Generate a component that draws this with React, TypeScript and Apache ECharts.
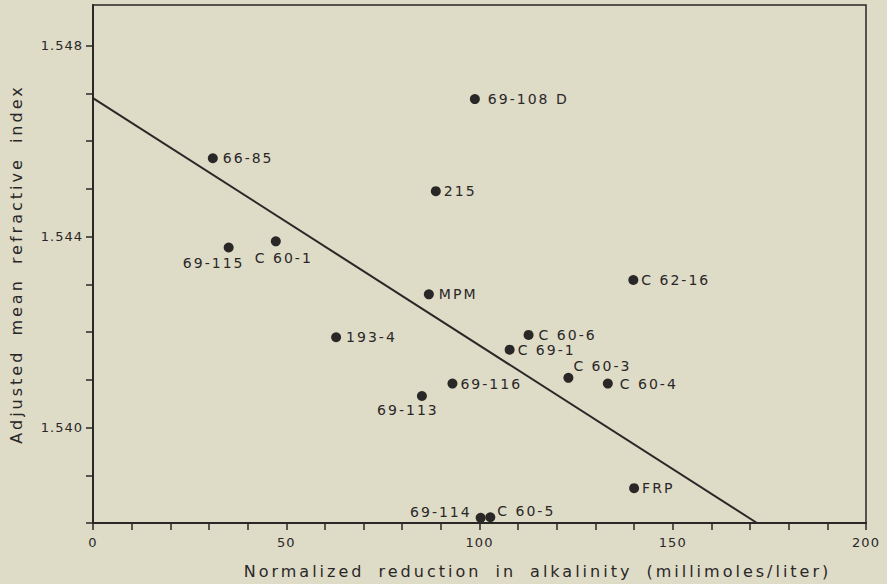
import React, { useEffect, useRef } from "react";
import * as echarts from "echarts";

// Sample names and values
const sampleNames = [
  "66-85", "215", "69-115", "C 60-1", "69-108 D", "MPM", "C 62-16", "C 60-6",
  "C 69-1", "C 60-3", "C 60-4", "69-116", "69-113", "193-4", "69-114", "C 60-5", "FRP",
];
const alkalinityReduction = [
  31.0, 88.7, 35.1, 47.3, 98.8, 86.9, 139.8, 112.7,
  107.8, 123.0, 133.2, 93.0, 85.1, 62.9, 100.3, 102.8, 140.0,
];
const refractiveIndex = [
  1.54564, 1.54495, 1.54377, 1.5439, 1.54688, 1.54279, 1.54309, 1.54194,
  1.54163, 1.54104, 1.54092, 1.54092, 1.54066, 1.54189, 1.53811, 1.53812, 1.53873,
];
// Regression line end points
const fitX = [0, 171.8];
const fitY = [1.5469, 1.538];

// Axis ticks / labels
const xTicks = [0, 10, 20, 30, 40, 50, 60, 70, 80, 90, 100, 110, 120, 130, 140, 150, 160, 170, 180, 190, 200];
const xTickLabels = [0, 50, 100, 150, 200];
const yTicks = [1.538, 1.539, 1.54, 1.541, 1.542, 1.543, 1.544, 1.545, 1.546, 1.547, 1.548];
const yTickLabels = [1.54, 1.544, 1.548];

const FONT = "DejaVu Sans";
const INK = "#2a2727";

// label placement per sample (style only); array positions are relative to the 10x10 symbol box
const labelPlacement: Record<string, any> = {
  "69-115": { position: [-10, 13], align: "center", verticalAlign: "top" },
  "C 60-1": { position: [13, 15], align: "center", verticalAlign: "top" },
  "69-113": { position: [-9, 12], align: "center", verticalAlign: "top" },
  "69-114": { position: [-4, -1], align: "right", verticalAlign: "middle" },
  "C 60-5": { position: [12, -1], align: "left", verticalAlign: "middle" },
  "C 60-3": { position: [10, -7], align: "left", verticalAlign: "middle" },
  "69-108 D": { position: "right", distance: 8 },
  "C 60-4": { position: "right", distance: 7 },
  "C 60-6": { position: "right", distance: 5 },
  "C 69-1": { position: "right", distance: 3 },
  "66-85": { position: "right", distance: 5 },
  "MPM": { position: "right", distance: 5 },
  "193-4": { position: "right", distance: 5 },
};

const css = `
.refchart text { letter-spacing: 2px; }
.refchart text[style*="16px"] { letter-spacing: 3px; word-spacing: 6px; }
.refchart text[style*="13px"] { letter-spacing: 1px; }
`;

export default function App() {
  const ref = useRef<HTMLDivElement>(null);
  useEffect(() => {
    if (!ref.current) return;
    const chart = echarts.init(ref.current, null, { renderer: "svg" });
    const scatterData = sampleNames.map((n, i) => {
      const p = labelPlacement[n] || { position: "right", distance: 3 };
      return {
        name: n,
        value: [alkalinityReduction[i], refractiveIndex[i]],
        label: { ...p },
      };
    });
    chart.setOption({
      animation: false,
      backgroundColor: "#dedbc7",
      textStyle: { fontFamily: FONT, color: INK },
      grid: {
        left: 90,
        right: 21,
        top: 5,
        bottom: 56,
        show: true,
        borderColor: INK,
        borderWidth: 1.5,
        backgroundColor: "transparent",
      },
      xAxis: {
        type: "value",
        min: 0,
        max: 200,
        interval: 10,
        name: "Normalized reduction in alkalinity (millimoles/liter)",
        nameLocation: "middle",
        nameGap: 40,
        nameTextStyle: { fontFamily: FONT, fontSize: 16, color: INK, padding: [0, 0, 0, 116] },
        axisLine: { show: true, lineStyle: { color: INK, width: 2 } },
        axisTick: { show: true, length: 7, customValues: xTicks, lineStyle: { color: INK, width: 1.5 } },
        axisLabel: {
          customValues: xTickLabels,
          margin: 13,
          fontFamily: FONT,
          fontSize: 13,
          color: INK,
        },
        splitLine: { show: false },
      },
      yAxis: {
        type: "value",
        min: 1.538,
        max: 1.54885,
        name: "Adjusted mean refractive index",
        nameLocation: "middle",
        nameGap: 69,
        nameTextStyle: { fontFamily: FONT, fontSize: 16, color: INK },
        axisLine: { show: true, lineStyle: { color: INK, width: 2 } },
        axisTick: { show: true, length: 7, customValues: yTicks, lineStyle: { color: INK, width: 1.5 } },
        axisLabel: {
          customValues: yTickLabels,
          margin: 10,
          fontFamily: FONT,
          fontSize: 13,
          color: INK,
          formatter: (v: number) => v.toFixed(3),
        },
        splitLine: { show: false },
      },
      series: [
        {
          type: "line",
          data: fitX.map((x, i) => [x, fitY[i]]),
          showSymbol: false,
          symbol: "none",
          silent: true,
          lineStyle: { color: INK, width: 2 },
          z: 1,
        },
        {
          type: "scatter",
          data: scatterData,
          symbol: "circle",
          symbolSize: 10,
          itemStyle: { color: INK, opacity: 1 },
          label: {
            show: true,
            formatter: (p: any) => p.name,
            fontFamily: FONT,
            fontSize: 14,
            color: INK,
          },
          labelLayout: { hideOverlap: false },
          z: 2,
        },
      ],
    });
    return () => chart.dispose();
  }, []);
  return (
    <>
      <style>{css}</style>
      <div
        ref={ref}
        className="refchart"
        style={{ position: "fixed", left: 0, top: 0, width: 887, height: 584 }}
      />
    </>
  );
}
